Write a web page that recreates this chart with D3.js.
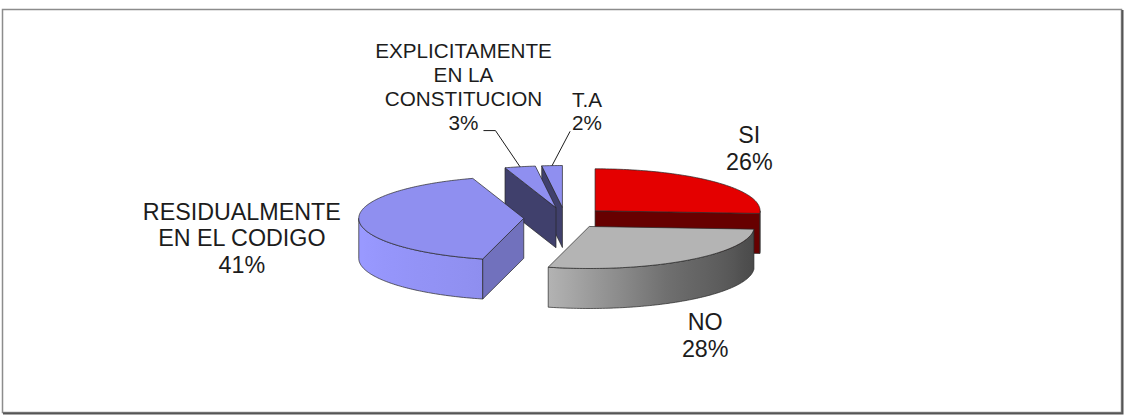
<!DOCTYPE html>
<html>
<head>
<meta charset="utf-8">
<script src="https://cdn.jsdelivr.net/npm/d3@7"></script>
<style>
  body { margin: 0; background: #fff; }
  svg { display: block; }
  text { font-family: "Liberation Sans", Arial, sans-serif; fill: #1c1c1c; }
</style>
</head>
<body>
<svg id="chart" width="1128" height="416"></svg>
<script>
// data
const categories = [['SI'], ['NO'], ['RESIDUALMENTE', 'EN EL CODIGO'], ['EXPLICITAMENTE', 'EN LA', 'CONSTITUCION'], ['T.A']]
const values = [26, 28, 41, 3, 2]
const pctLabels = ['26%', '28%', '41%', '3%', '2%']

// styles
const colors = ['#e40000', '#b4b4b4', '#8f8ff0', '#8f8ff0', '#8f8ff0']
const labelStyle = [
  { dx: 34, dy: -34, fs: 23.3 },
  { dx: 19, dy: 74.5, fs: 23.3 },
  { dx: -117, dy: 18.4, fs: 23.3 },
  { dx: -56.5, dy: -80.3, fs: 20.7, leader: 'right' },
  { dx: 35, dy: -54.6, fs: 20.7, leader: 'left' },
]

const W = 1128
const H = 416
const CX = 565
const CY = 218
const RX = 165
const RY = 42
const DEPTH = 40
const EXPLODE = 0.25
const DEG = Math.PI / 180

const svg = d3.select('#chart')

// frame
svg.append('rect')
  .attr('x', 2.5).attr('y', 9.5)
  .attr('width', 1119).attr('height', 403)
  .attr('fill', '#fff')
  .attr('stroke', '#8c8c8c')
  .attr('stroke-width', 1.5)
svg.append('path')
  .attr('d', 'M1122.5,10 V413.5 H3')
  .attr('fill', 'none')
  .attr('stroke', '#555')
  .attr('stroke-width', 2)

// scales: unit ellipse -> pixels
const x = d3.scaleLinear().domain([-1, 1]).range([CX - RX, CX + RX])
const y = d3.scaleLinear().domain([-1, 1]).range([CY + RY, CY - RY])

const pie = d3.pie().sort(null).value(d => d)
const slices = pie(values).map((a, i) => {
  const mid = (a.startAngle + a.endAngle) / 2
  return { ...a, i, mid, ox: EXPLODE * Math.sin(mid), oy: EXPLODE * Math.cos(mid) }
})

function pt(s, t, z = 0) { return [x(s.ox + Math.sin(t)), y(s.oy + Math.cos(t)) + z] }
function apex(s, z = 0) { return [x(s.ox), y(s.oy) + z] }
function arcPts(s, a0, a1, z = 0) {
  const n = Math.max(2, Math.ceil((a1 - a0) / DEG))
  return d3.range(n + 1).map(k => pt(s, a0 + (a1 - a0) * k / n, z))
}
const line = d3.line()
const closed = pts => line(pts) + 'Z'

function tone(c, f) {
  const r = d3.rgb(c)
  return d3.rgb(Math.min(255, r.r * f), Math.min(255, r.g * f), Math.min(255, r.b * f)).formatHex()
}
// shading of the curved side by angle of its outward normal
const sideShade = d3.scaleLinear()
  .domain([90, 110, 150, 195, 270].map(d => d * DEG))
  .range([0.4, 0.44, 0.6, 1.0, 1.08])
  .clamp(true)
const faceShade = phi => 0.45 + 0.35 * Math.max(0, Math.sin(phi))

const defs = svg.append('defs')
const STROKE = '#262626'

// back to front
const order = slices.slice().sort((a, b) => Math.cos(b.mid) - Math.cos(a.mid))

order.forEach(s => {
  const g = svg.append('g')
    .attr('stroke', STROKE)
    .attr('stroke-width', 0.7)
    .attr('stroke-linejoin', 'round')
  const base = colors[s.i]
  const a0 = s.startAngle
  const a1 = s.endAngle

  // outer curved side (front half only)
  const s0 = Math.max(a0, 90 * DEG)
  const s1 = Math.min(a1, 270 * DEG)
  if (s1 > s0) {
    const top = arcPts(s, s0, s1)
    const bot = arcPts(s, s0, s1, DEPTH).reverse()
    const xs = top.map(p => p[0])
    const xmin = d3.min(xs)
    const xmax = d3.max(xs)
    const grad = defs.append('linearGradient')
      .attr('id', 'side' + s.i)
      .attr('gradientUnits', 'userSpaceOnUse')
      .attr('x1', xmin).attr('x2', xmax)
      .attr('y1', 0).attr('y2', 0)
    const stops = d3.range(13).map(k => {
      const t = s0 + (s1 - s0) * k / 12
      const px = pt(s, t)[0]
      return { off: xmax > xmin ? (px - xmin) / (xmax - xmin) : 0, col: tone(base, sideShade(t)) }
    }).sort((a, b) => a.off - b.off)
    stops.forEach(d => grad.append('stop')
      .attr('offset', d.off)
      .attr('stop-color', d.col))
    g.append('path')
      .attr('d', closed(top.concat(bot)))
      .attr('fill', `url(#side${s.i})`)
  }

  // radial faces
  if (Math.sin(a0) < -1e-6) {
    g.append('path')
      .attr('d', closed([apex(s), pt(s, a0), pt(s, a0, DEPTH), apex(s, DEPTH)]))
      .attr('fill', tone(base, faceShade(a0 - Math.PI / 2)))
  }
  if (Math.sin(a1) > 1e-6) {
    g.append('path')
      .attr('d', closed([apex(s), pt(s, a1), pt(s, a1, DEPTH), apex(s, DEPTH)]))
      .attr('fill', tone(base, faceShade(a1 + Math.PI / 2)))
  }

  // top face
  g.append('path')
    .attr('d', closed([apex(s)].concat(arcPts(s, a0, a1))))
    .attr('fill', base)
})

// labels
slices.forEach(s => {
  const st = labelStyle[s.i]
  const m = pt(s, s.mid)
  const lines = categories[s.i].concat([pctLabels[s.i]])
  const lh = st.fs * 1.15
  const cap = st.fs * 0.716
  const lx = m[0] + st.dx
  const ly = m[1] + st.dy
  const y0 = ly - ((lines.length - 1) * lh + cap) / 2 + cap
  const t = svg.append('text')
    .attr('text-anchor', 'middle')
    .attr('font-size', st.fs)
  const spans = lines.map((l, k) => t.append('tspan')
    .attr('x', lx)
    .attr('y', y0 + k * lh)
    .text(l))

  if (st.leader) {
    const last = spans[spans.length - 1]
    const w = last.node().getComputedTextLength()
    const by = y0 + (lines.length - 1) * lh + 1
    let pts
    if (st.leader === 'right') {
      const rx0 = lx + w / 2 + 5
      pts = [[rx0, by], [rx0 + 12, by], m]
    } else {
      pts = [[lx - w / 2 - 2, by], m]
    }
    svg.append('path')
      .attr('d', line(pts))
      .attr('fill', 'none')
      .attr('stroke', '#1c1c1c')
      .attr('stroke-width', 1)
  }
})
</script>
</body>
</html>
